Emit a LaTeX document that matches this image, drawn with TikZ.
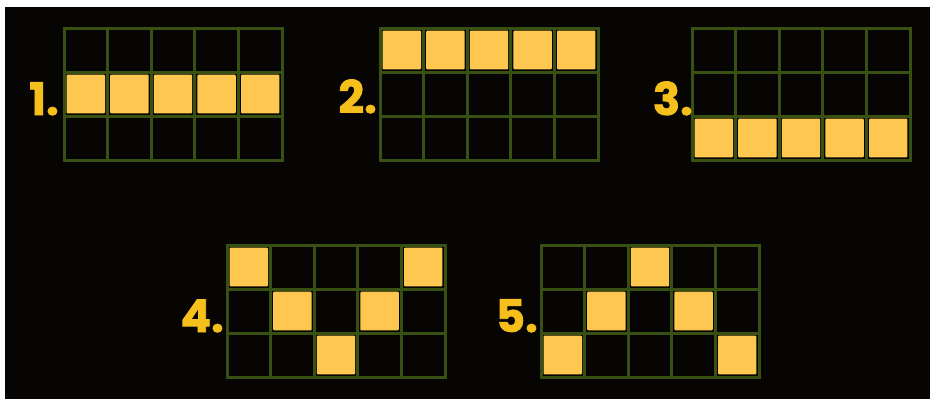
\documentclass[tikz,border=0pt]{standalone}
\usepackage{fontspec}
\newfontfamily\numfont[BoldFeatures={FakeBold=1.6}]{Poppins}
\definecolor{bgdark}{RGB}{7,5,4}
\definecolor{gridgreen}{RGB}{56,80,18}
\definecolor{cellyellow}{RGB}{253,199,80}
\definecolor{numyellow}{RGB}{246,192,28}
\newcommand\paygrid[3]{%
  \begin{scope}[shift={(#1,#2)}]
    \fill[bgdark] (0,0) rectangle (218,132);
    \foreach \i in {0,...,5} \draw[gridline] ({\i*43.6},0) -- ({\i*43.6},132);
    \foreach \j in {0,...,3} \draw[gridline] (0,{\j*44}) -- (218,{\j*44});
    \foreach \c/\r in {#3}
      \fill[lit] ({(\c-1)*43.6+2.6},{(\r-1)*44+2.6}) rectangle ({\c*43.6-2.6},{\r*44-2.6});
  \end{scope}}
\begin{document}
\begin{tikzpicture}[x=1pt,y=-1pt,
  gridline/.style={draw=gridgreen,line width=3pt,line cap=rect},
  lit/.style={fill=cellyellow,rounded corners=1pt},
  numlabel/.style={text=numyellow,font=\numfont\bfseries\fontsize{45}{45}\selectfont,inner sep=0pt,anchor=base east}]
\useasboundingbox (0,0) rectangle (933,399);
\fill[white] (0,0) rectangle (933,399);
\fill[bgdark] (5,7) rectangle (930,399);
\paygrid{64}{28}{1/2,2/2,3/2,4/2,5/2}
\paygrid{380}{28}{1/1,2/1,3/1,4/1,5/1}
\paygrid{692}{28}{1/3,2/3,3/3,4/3,5/3}
\paygrid{227}{245}{1/1,5/1,2/2,4/2,3/3}
\paygrid{541}{245}{3/1,2/2,4/2,1/3,5/3}
\node[numlabel] (n1) at (59,115) {1.};
\node[numlabel] (n2) at (377,113) {2.};
\node[numlabel] (n3) at (693,115) {3.};
\node[numlabel] (n4) at (224,332) {4.};
\node[numlabel] (n5) at (538,332) {5.};
\end{tikzpicture}
\end{document}
